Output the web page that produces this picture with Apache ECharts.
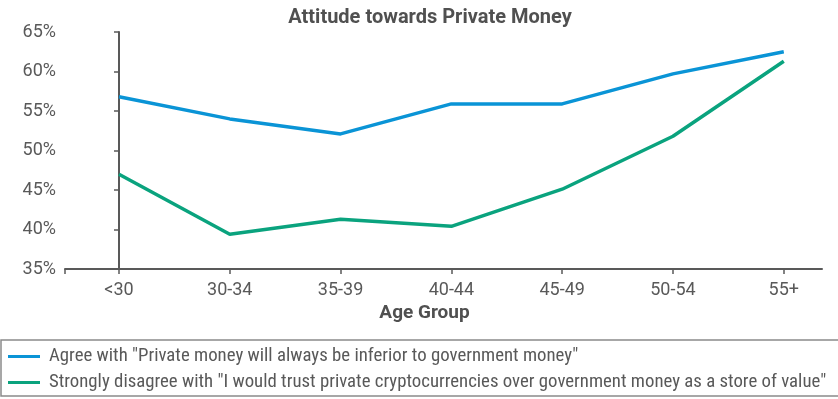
<!DOCTYPE html>
<html>
<head>
<meta charset="utf-8">
<script src="https://cdn.jsdelivr.net/npm/echarts@6/dist/echarts.min.js"></script>
<style>
  html, body { margin: 0; padding: 0; background: #fff; }
  #chart { width: 838px; height: 399px; }
</style>
</head>
<body>
<div id="chart"></div>
<script>
// Age groups along the horizontal axis
const ageGroups = ['<30', '30-34', '35-39', '40-44', '45-49', '50-54', '55+'];

// Share of respondents (%) per age group
const agreeInferior = [56.8, 54.0, 52.1, 55.9, 55.9, 59.7, 62.5];
const disagreeTrustCrypto = [47.0, 39.4, 41.3, 40.4, 45.1, 51.8, 61.3];

const seriesNames = [
  'Agree with "Private money will always be inferior to government money"',
  'Strongly disagree with "I would trust private cryptocurrencies over government money as a store of value"'
];

const yTicks = { min: 35, max: 65, step: 5 };

const axisGray = '#595959';
const font = 'Roboto, "Liberation Sans", sans-serif';
const narrowFont = '"Roboto Condensed", "Liberation Sans Narrow", Roboto, sans-serif';

function toPoints(values) {
  return values.map((v, i) => [i, v]);
}

const categoryIndexes = ageGroups.map((_, i) => i);
const xMin = -0.487;
const xMax = 6.345;

const chart = echarts.init(document.getElementById('chart'), null, { renderer: 'canvas' });

chart.setOption({
  animation: false,
  backgroundColor: '#ffffff',
  textStyle: { fontFamily: font },
  title: {
    text: 'Attitude towards Private Money',
    left: 425,
    textAlign: 'center',
    top: 3,
    textStyle: { fontSize: 20, fontWeight: 'bold', color: '#505050', fontFamily: font }
  },
  grid: { left: 65, right: 16, top: 32, bottom: 130, containLabel: false },
  xAxis: {
    type: 'value',
    min: xMin,
    max: xMax,
    name: 'Age Group',
    nameLocation: 'middle',
    nameGap: 34,
    nameTextStyle: {
      fontSize: 19,
      fontWeight: 'bold',
      color: '#505050',
      fontFamily: font,
      verticalAlign: 'top',
      padding: [0, 38, 0, 0]
    },
    axisLine: { show: true, lineStyle: { color: axisGray, width: 2 } },
    axisTick: {
      show: true,
      length: 5,
      lineStyle: { color: axisGray, width: 1.5 },
      customValues: [xMin].concat(categoryIndexes)
    },
    axisLabel: {
      customValues: categoryIndexes,
      formatter: (v) => ageGroups[Math.round(v)],
      fontSize: 18,
      color: axisGray,
      margin: 12,
      fontFamily: font
    },
    splitLine: { show: false }
  },
  yAxis: {
    type: 'value',
    min: yTicks.min,
    max: yTicks.max,
    interval: yTicks.step,
    axisLine: { show: true, lineStyle: { color: axisGray, width: 2 } },
    axisTick: { show: true, length: 5, lineStyle: { color: axisGray, width: 1.5 } },
    axisLabel: {
      formatter: '{value}%',
      fontSize: 18,
      color: axisGray,
      margin: 9,
      fontFamily: font
    },
    splitLine: { show: false }
  },
  legend: {
    orient: 'vertical',
    left: 1,
    top: 340,
    height: 120,
    icon: 'rect',
    itemWidth: 32,
    itemHeight: 3,
    itemGap: 7,
    padding: [7, 200, 4, 7],
    borderColor: '#8a8a8a',
    borderWidth: 1.5,
    textStyle: { fontSize: 18.8, color: axisGray, fontFamily: narrowFont, padding: [0, 0, 0, 4] },
    data: seriesNames
  },
  series: [
    {
      name: seriesNames[0],
      type: 'line',
      data: toPoints(agreeInferior),
      symbol: 'none',
      lineStyle: { color: '#0a94d6', width: 3.5 },
      itemStyle: { color: '#0a94d6' }
    },
    {
      name: seriesNames[1],
      type: 'line',
      data: toPoints(disagreeTrustCrypto),
      symbol: 'none',
      lineStyle: { color: '#0aa37e', width: 3.5 },
      itemStyle: { color: '#0aa37e' }
    }
  ]
});
</script>
</body>
</html>
